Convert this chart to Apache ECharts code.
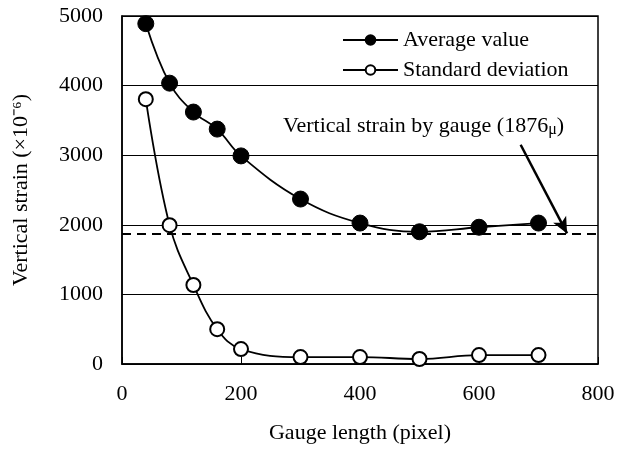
<!DOCTYPE html>
<html>
<head>
<meta charset="utf-8">
<style>
  html, body { margin: 0; padding: 0; background: #fff; }
  #chart { width: 623px; height: 450px; }
</style>
<script src="https://cdn.jsdelivr.net/npm/echarts@6/dist/echarts.min.js"></script>
</head>
<body>
<div id="chart"></div>
<script>
// gauge length (pixel)
const gaugeLength = [40, 80, 120, 160, 200, 300, 400, 500, 600, 700]
const averageValue = [4890, 4035, 3620, 3375, 2990, 2370, 2025, 1900, 1965, 2025]
const stdDeviation = [3805, 1995, 1135, 500, 215, 100, 100, 72, 128, 128]
const gaugeStrain = 1876
// arrow from label to the gauge line
const arrowFrom = [670, 3150]
const arrowTo = [748, 1876]
const xTicks = [0, 800, 200]
const yTicks = [0, 5000, 1000]

const font = 'Liberation Serif, Times New Roman, serif'

const chart = echarts.init(document.getElementById('chart'))

const toPairs = (xs, ys) => xs.map((x, i) => [x, ys[i]])

chart.setOption({
  animation: false,
  grid: {
    left: 122,
    right: 25,
    top: 16,
    bottom: 86,
    show: true,
    borderColor: '#000',
    borderWidth: 1.5,
    containLabel: false
  },
  legend: {
    orient: 'vertical',
    left: 337,
    top: 24,
    itemWidth: 55,
    itemHeight: 12,
    itemGap: 8,
    textStyle: { fontFamily: font, fontSize: 22, color: '#000', lineHeight: 22 },
    data: ['Average value', 'Standard deviation']
  },
  xAxis: {
    type: 'value',
    min: xTicks[0],
    max: xTicks[1],
    interval: xTicks[2],
    name: 'Gauge length (pixel)',
    nameLocation: 'middle',
    nameGap: 58,
    nameTextStyle: { fontFamily: font, fontSize: 22, color: '#000' },
    axisLine: { show: true, lineStyle: { color: '#000', width: 1.5 } },
    axisTick: { show: true, inside: true, length: 7, lineStyle: { color: '#000' } },
    axisLabel: { fontFamily: font, fontSize: 22, color: '#000', margin: 19 },
    splitLine: { show: false }
  },
  yAxis: {
    type: 'value',
    min: yTicks[0],
    max: yTicks[1],
    interval: yTicks[2],
    name: 'Vertical strain (×10⁻⁶)',
    nameLocation: 'middle',
    nameGap: 90,
    nameTextStyle: { fontFamily: font, fontSize: 22, color: '#000' },
    axisLine: { show: true, lineStyle: { color: '#000', width: 1.5 } },
    axisTick: { show: false },
    axisLabel: { fontFamily: font, fontSize: 22, color: '#000', margin: 19, formatter: v => String(v) },
    splitLine: { show: true, lineStyle: { color: '#000', width: 1 } }
  },
  graphic: [{
    type: 'text',
    left: 283,
    top: 114,
    style: {
      text: '{a|Vertical strain by gauge (1876}{b|μ}{a|)}',
      rich: {
        a: { fontFamily: font, fontSize: 22, fill: '#000', lineHeight: 26 },
        b: { fontFamily: font, fontSize: 16, fill: '#000', lineHeight: 26, padding: [8, 0, 0, 0] }
      }
    }
  }],
  series: [
    {
      name: 'Standard deviation',
      type: 'line',
      data: toPairs(gaugeLength, stdDeviation),
      smooth: 0.4,
      symbol: 'circle',
      symbolSize: 14,
      lineStyle: { color: '#000', width: 1.8 },
      itemStyle: { color: '#fff', borderColor: '#000', borderWidth: 2 },
      z: 3,
      markLine: {
        silent: true,
        symbol: ['none', 'none'],
        label: { show: false },
        lineStyle: { type: [9, 6], width: 2, color: '#000' },
        data: [{ yAxis: gaugeStrain }]
      }
    },
    {
      name: 'Average value',
      type: 'line',
      data: toPairs(gaugeLength, averageValue),
      smooth: 0.4,
      symbol: 'circle',
      symbolSize: 16,
      lineStyle: { color: '#000', width: 1.8 },
      itemStyle: { color: '#000', borderColor: '#000', borderWidth: 1 },
      z: 4,
      markLine: {
        silent: true,
        symbol: ['none', 'arrow'],
        symbolSize: [11, 16],
        label: { show: false },
        lineStyle: { type: 'solid', width: 2.5, color: '#000' },
        data: [[{ coord: arrowFrom }, { coord: arrowTo }]]
      }
    }
  ]
})
</script>
</body>
</html>
